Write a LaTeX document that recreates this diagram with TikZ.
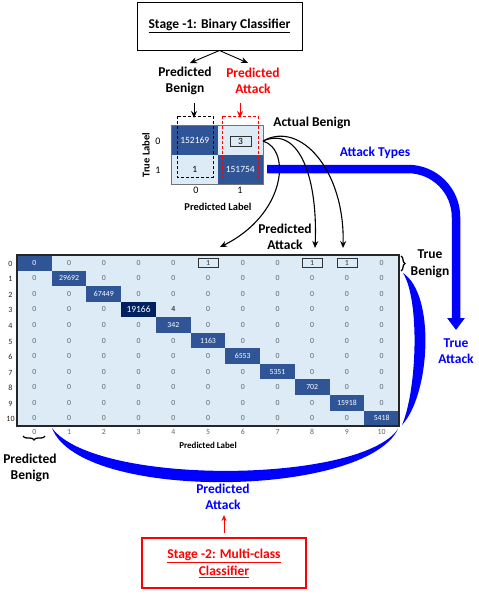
\documentclass[tikz,border=0pt]{standalone}
\usepackage{fontspec}
\setmainfont{Carlito}
\usetikzlibrary{arrows.meta,decorations.pathreplacing}
\definecolor{cmdark}{RGB}{47,85,151}
\definecolor{cmnavy}{RGB}{0,32,96}
\definecolor{cmlight}{RGB}{221,235,247}
\definecolor{cmgray}{RGB}{100,100,100}
\definecolor{cmblue}{RGB}{0,0,255}
\definecolor{cmred}{RGB}{255,0,0}
\tikzset{
  lbl/.style={font=\fontsize{13.5}{16.5}\selectfont\bfseries, align=center, inner sep=0pt},
  stagebox/.style={draw, line width=1pt, minimum width=165pt, minimum height=48pt, align=center, font=\fontsize{13.5}{17}\selectfont\bfseries},
  scell/.style={minimum width=45.5pt, minimum height=29pt, inner sep=0pt},
  snum/.style={font=\fontsize{9.5}{11}\selectfont, text=white, inner sep=0pt},
  bcell/.style={minimum width=34.73pt, minimum height=15.55pt, inner sep=0pt, fill=cmdark},
  bnum/.style={font=\fontsize{7.8}{9}\selectfont, text=cmgray, inner sep=0pt},
  tinybox/.style={draw=black!80, line width=0.8pt, minimum width=20pt, minimum height=9pt, inner sep=0pt},
  blk/.style={-{Stealth[length=7pt,width=6pt]}, line width=1.1pt},
  crescent/.style={fill=cmblue, draw=none},
}
\begin{document}
\begin{tikzpicture}[x=1pt,y=-1pt]
\path[use as bounding box] (0,0) rectangle (479,598);

% Stage 1
\node[stagebox] (st1) at (219.5,26) {\underline{Stage -1: Binary Classifier}};
\node[lbl] (pb) at (185,81) {Predicted\\Benign};
\node[lbl, text=cmred] (pa) at (253,81) {Predicted\\Attack};
\coordinate (pbt) at (190,63);
\coordinate (pat) at (248,63);
\draw[blk, line width=0.9pt] (st1.south) -- (pbt);
\draw[blk, line width=0.9pt] (st1.south) -- (pat);

% small matrix
\node[scell, fill=cmdark] (s00) at (194.75,140.5) {};
\node[scell, fill=cmlight] (s01) at (240.25,140.5) {};
\node[scell, fill=cmlight] (s10) at (194.75,169.5) {};
\node[scell, fill=cmdark] (s11) at (240.25,169.5) {};
\draw[black!55, line width=1pt] (s00.north west) rectangle (s11.south east);
\node[snum] (n00) at (s00) {152169};
\node[tinybox, minimum width=21pt, minimum height=10pt, font=\fontsize{9.5}{11}\selectfont] (n01) at (240.5,141) {3};
\node[snum, text=black] (n10) at (s10) {1};
\node[snum] (n11) at (s11) {151754};
\draw[black, densely dashed, line width=0.8pt] (177,116) rectangle (213,177);
\draw[cmred, densely dashed, line width=0.8pt] (222,116) rectangle (258,177);
\coordinate (bd1) at (194,103);
\coordinate (bd2) at (194,118);
\coordinate (rd1) at (240,103);
\coordinate (rd2) at (240,118);
\draw[blk, line width=0.9pt] (bd1) -- (bd2);
\draw[blk, line width=0.9pt, cmred] (rd1) -- (rd2);
\node[font=\fontsize{10}{12}\selectfont] (r0) at (158,141) {0};
\node[font=\fontsize{10}{12}\selectfont] (r1) at (158,170) {1};
\node[font=\fontsize{10}{12}\selectfont] (c0) at (196,190) {0};
\node[font=\fontsize{10}{12}\selectfont] (c1) at (240,190) {1};
\node[font=\fontsize{10.5}{12}\selectfont\bfseries, rotate=90] (tl) at (146,155) {True Label};
\node[font=\fontsize{10.5}{12}\selectfont\bfseries] (plab) at (218,207) {Predicted Label};

\node[lbl] (ab) at (312,123) {Actual Benign};
\node[lbl, text=cmblue] (at) at (375,153) {Attack Types};
\node[lbl] (pa2) at (285,237) {Predicted\\Attack};

% blue path to True Attack
\coordinate (bs) at (267,169);
\coordinate (be) at (456,330);
\draw[cmblue, line width=8.5pt, rounded corners=48pt, -{Triangle[width=17pt,length=12pt]}] (bs) -| (be);
\node[lbl, text=cmblue] (ta) at (456,351) {True\\Attack};

% big matrix
\fill[cmlight] (17,255) rectangle (399,426);
\foreach \v [count=\i from 0] in {0,29692,67449,19166,342,1163,6553,5351,702,15918,5418} {
  \ifnum\i=3
    \node[bcell, fill=cmnavy, text=white, font=\fontsize{9.5}{11}\selectfont] (d-\i) at ({17+34.73*(\i+0.5)},{255+15.55*(\i+0.5)}) {\v};
  \else
    \node[bcell, text=white, font=\fontsize{7.8}{9}\selectfont] (d-\i) at ({17+34.73*(\i+0.5)},{255+15.55*(\i+0.5)}) {\v};
  \fi
}
\foreach \row [count=\r from 0] in {
 {0,0,0,0,0,1,0,0,1,1,0},
 {0,0,0,0,0,0,0,0,0,0,0},
 {0,0,0,0,0,0,0,0,0,0,0},
 {0,0,0,0,4,0,0,0,0,0,0},
 {0,0,0,0,0,0,0,0,0,0,0},
 {0,0,0,0,0,0,0,0,0,0,0},
 {0,0,0,0,0,0,0,0,0,0,0},
 {0,0,0,0,0,0,0,0,0,0,0},
 {0,0,0,0,0,0,0,0,0,0,0},
 {0,0,0,0,0,0,0,0,0,0,0},
 {0,0,0,0,0,0,0,0,0,0,0}} {
  \foreach \v [count=\c from 0] in \row {
    \ifnum\r=\c\else
      \ifnum\v=1
        \node[bnum, tinybox, text=black!80] (b-\r-\c) at ({17+34.73*(\c+0.5)},{255+15.55*(\r+0.5)}) {\v};
      \else
        \ifnum\v=4
          \node[bnum, text=black] (b-\r-\c) at ({17+34.73*(\c+0.5)},{255+15.55*(\r+0.5)}) {\v};
        \else
          \node[bnum] (b-\r-\c) at ({17+34.73*(\c+0.5)},{255+15.55*(\r+0.5)}) {\v};
        \fi
      \fi
    \fi
  }
}
\draw[black!85, line width=1.1pt] (17,255) rectangle (399,426);
\foreach \i in {0,...,10} {
  \node[font=\fontsize{8}{9}\selectfont, text=black!75!brown] (rl-\i) at (10.5,{255+15.55*(\i+0.5)+1}) {\i};
  \node[font=\fontsize{7.8}{9}\selectfont, text=cmgray] (cl-\i) at ({17+34.73*(\i+0.5)},432) {\i};
}
\node[font=\fontsize{9}{11}\selectfont\bfseries] (bplab) at (208,445) {Predicted Label};

% black curved arrows
\coordinate (a0) at (263,141);
\coordinate (e1) at (220,247);
\coordinate (e2) at (315,248);
\coordinate (e3) at (343,248);
\draw[blk] (a0) .. controls (292,150) and (285,215) .. (e1);
\draw[blk] (a0) .. controls (300,125) and (318,180) .. (e2);
\draw[blk] (a0) .. controls (300,120) and (345,170) .. (e3);

% right brace + crescent
\draw[decorate, decoration={brace, amplitude=4pt}, line width=1.3pt] (401,256) -- (401,271);
\node[lbl] (tb) at (430,264) {True\\Benign};
\fill[crescent] (403,273) .. controls (436,295) and (430,395) .. (402,425)
                 .. controls (417,390) and (420,300) .. (403,273) -- cycle;

% bottom brace + crescent
\draw[decorate, decoration={brace, amplitude=4pt}, line width=1.3pt] (45,436) -- (23,436);
\node[lbl] (pbn) at (30,468) {Predicted\\Benign};
\fill[crescent] (52,428) .. controls (80,502) and (365,498) .. (398,429)
                 .. controls (360,484) and (95,486) .. (52,428) -- cycle;

% Stage 2
\node[lbl, text=cmblue] (pab) at (223,497) {Predicted\\Attack};
\coordinate (ra1) at (224,533);
\coordinate (ra2) at (224,515);
\draw[-{Stealth[length=6pt,width=5pt]}, line width=1pt, cmred] (ra1) -- (ra2);
\node[stagebox, draw=cmred, text=cmred, line width=1.2pt, minimum width=164pt, minimum height=50pt] (st2) at (224,563) {\underline{Stage -2: Multi-class}\\\underline{Classifier}};
\end{tikzpicture}
\end{document}
